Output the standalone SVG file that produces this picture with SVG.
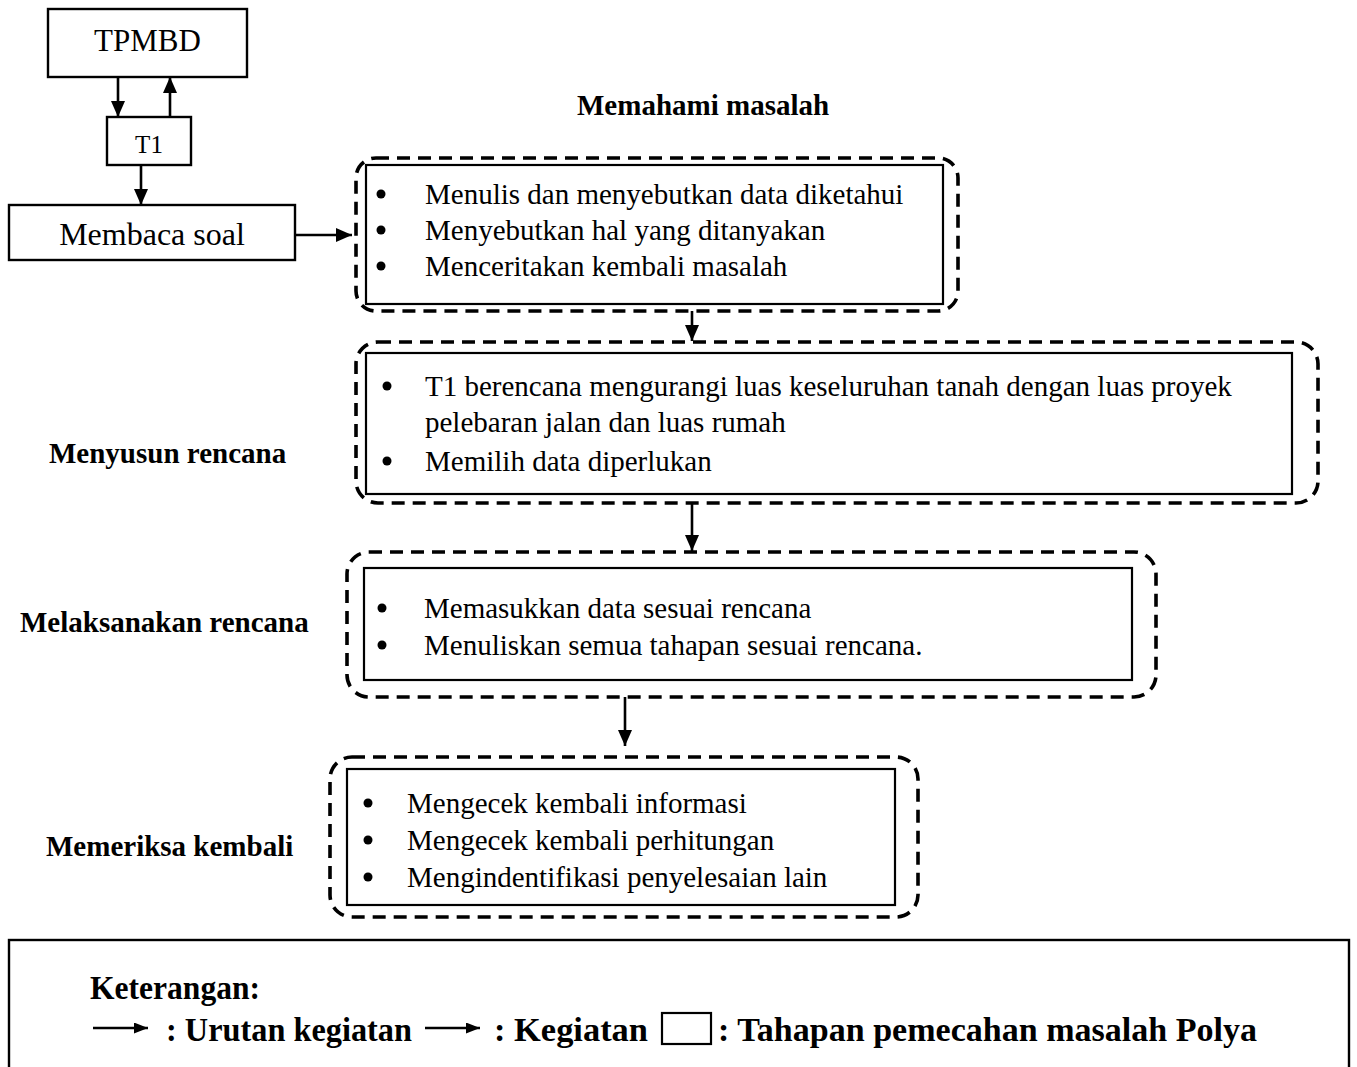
<svg xmlns="http://www.w3.org/2000/svg" width="1357" height="1067" viewBox="0 0 1357 1067">
  <defs>
    <marker id="head" markerWidth="16" markerHeight="14" viewBox="0 0 16 14" refX="16" refY="7" orient="auto" markerUnits="userSpaceOnUse">
      <path d="M0,0 L16,7 L0,14 Z" fill="#000"/>
    </marker>
    <marker id="headSmall" markerWidth="14" markerHeight="11" viewBox="0 0 14 11" refX="14" refY="5.5" orient="auto" markerUnits="userSpaceOnUse">
      <path d="M0,0 L14,5.5 L0,11 Z" fill="#000"/>
    </marker>
  </defs>
  <style>
    text { font-family: "Liberation Serif", "Times New Roman", serif; fill: #000; }
    .body { font-size: 29px; }
    .head { font-size: 29px; font-weight: bold; }
    .legend { font-size: 34px; font-weight: bold; }
    .box { fill: #fff; stroke: #000; stroke-width: 2.4; }
    .inner { fill: none; stroke: #000; stroke-width: 2.2; }
    .dash { fill: none; stroke: #000; stroke-width: 3.6; stroke-dasharray: 13 8; }
    .conn { stroke: #000; stroke-width: 2.6; fill: none; marker-end: url(#head); }
    .lconn { stroke: #000; stroke-width: 2.6; fill: none; marker-end: url(#headSmall); }
  </style>
  <rect width="1357" height="1067" fill="#fff"/>

  <!-- connectors -->
  <g id="connectors">
    <line class="conn" x1="118" y1="77" x2="118" y2="117"/>
    <line class="conn" x1="170" y1="117" x2="170" y2="77"/>
    <line class="conn" x1="141" y1="165" x2="141" y2="205"/>
    <line class="conn" x1="295" y1="235" x2="352" y2="235"/>
    <line class="conn" x1="692" y1="311" x2="692" y2="341"/>
    <line class="conn" x1="692" y1="503" x2="692" y2="551"/>
    <line class="conn" x1="625" y1="697" x2="625" y2="746"/>
  </g>

  <!-- actor nodes -->
  <g id="tpmbd">
    <rect class="box" x="48" y="9" width="199" height="68"/>
    <text class="body" x="147.5" y="51" text-anchor="middle" style="font-size:31px">TPMBD</text>
  </g>
  <g id="t1">
    <rect class="box" x="107" y="117" width="84" height="48"/>
    <text class="body" x="149" y="153" text-anchor="middle" style="font-size:25px">T1</text>
  </g>
  <g id="membaca-soal">
    <rect class="box" x="9" y="205" width="286" height="55"/>
    <text class="body" x="152" y="245" text-anchor="middle" style="font-size:32px">Membaca soal</text>
  </g>

  <!-- stage 1 -->
  <g id="memahami">
    <text class="head" x="577" y="115">Memahami masalah</text>
    <rect class="dash" x="356" y="158" width="602" height="153" rx="20"/>
    <rect class="inner" x="366" y="165" width="577" height="139"/>
    <circle cx="381" cy="194" r="4.5"/>
    <circle cx="381" cy="230" r="4.5"/>
    <circle cx="381" cy="266" r="4.5"/>
    <text class="body" x="425" y="204">Menulis dan menyebutkan data diketahui</text>
    <text class="body" x="425" y="240">Menyebutkan hal yang ditanyakan</text>
    <text class="body" x="425" y="276">Menceritakan kembali masalah</text>
  </g>

  <!-- stage 2 -->
  <g id="menyusun">
    <text class="head" x="49" y="463">Menyusun rencana</text>
    <rect class="dash" x="356" y="342" width="962" height="161" rx="22"/>
    <rect class="inner" x="366" y="353" width="926" height="141"/>
    <circle cx="387" cy="386" r="4.5"/>
    <circle cx="387" cy="461" r="4.5"/>
    <text class="body" x="425" y="396">T1 berencana mengurangi luas keseluruhan tanah dengan luas proyek</text>
    <text class="body" x="425" y="432">pelebaran jalan dan luas rumah</text>
    <text class="body" x="425" y="471">Memilih data diperlukan</text>
  </g>

  <!-- stage 3 -->
  <g id="melaksanakan">
    <text class="head" x="20" y="632">Melaksanakan rencana</text>
    <rect class="dash" x="347" y="552" width="809" height="145" rx="22"/>
    <rect class="inner" x="364" y="568" width="768" height="112"/>
    <circle cx="382" cy="608" r="4.5"/>
    <circle cx="382" cy="645" r="4.5"/>
    <text class="body" x="424" y="618">Memasukkan data sesuai rencana</text>
    <text class="body" x="424" y="655">Menuliskan semua tahapan sesuai rencana.</text>
  </g>

  <!-- stage 4 -->
  <g id="memeriksa">
    <text class="head" x="46" y="856">Memeriksa kembali</text>
    <rect class="dash" x="330" y="757" width="588" height="160" rx="22"/>
    <rect class="inner" x="347" y="769" width="548" height="136"/>
    <circle cx="368" cy="803" r="4.5"/>
    <circle cx="368" cy="840" r="4.5"/>
    <circle cx="368" cy="877" r="4.5"/>
    <text class="body" x="407" y="813">Mengecek kembali informasi</text>
    <text class="body" x="407" y="850">Mengecek kembali perhitungan</text>
    <text class="body" x="407" y="887">Mengindentifikasi penyelesaian lain</text>
  </g>

  <!-- legend -->
  <g id="legend">
    <rect x="9" y="940" width="1340" height="200" fill="none" stroke="#000" stroke-width="2.4"/>
    <text class="legend" x="90" y="999" textLength="170" lengthAdjust="spacingAndGlyphs">Keterangan:</text>
    <line class="lconn" x1="93" y1="1028" x2="148" y2="1028"/>
    <text class="legend" x="166" y="1041" textLength="246" lengthAdjust="spacingAndGlyphs">: Urutan kegiatan</text>
    <line class="lconn" x1="425" y1="1028" x2="480" y2="1028"/>
    <text class="legend" x="494" y="1041" textLength="154" lengthAdjust="spacingAndGlyphs">: Kegiatan</text>
    <rect x="662" y="1013" width="49" height="31" fill="#fff" stroke="#000" stroke-width="2.2"/>
    <text class="legend" x="718" y="1041" textLength="539" lengthAdjust="spacingAndGlyphs">: Tahapan pemecahan masalah Polya</text>
  </g>
</svg>
